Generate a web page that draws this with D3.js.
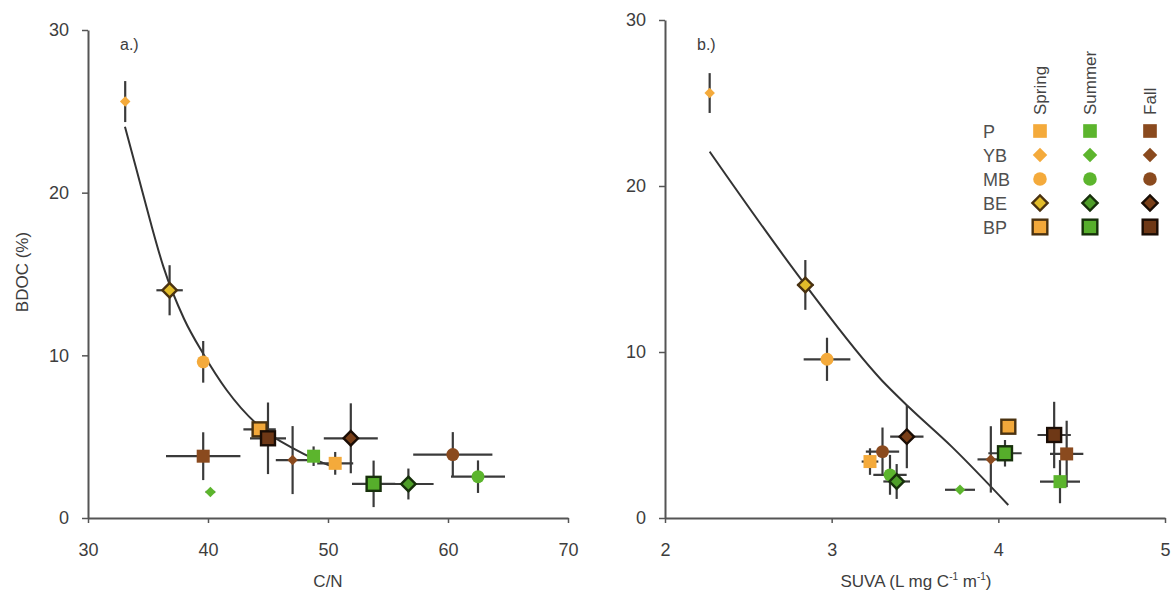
<!DOCTYPE html>
<html>
<head>
<meta charset="utf-8">
<script src="https://cdn.jsdelivr.net/npm/d3@7"></script>
<style>
  html, body { margin: 0; padding: 0; background: #fff; }
  svg { display: block; font-family: "Liberation Sans", Arial, Helvetica, sans-serif; }
</style>
</head>
<body>
<svg id="chart" width="1174" height="607"></svg>
<script>
// ---- data ----
const sites = ["P", "YB", "MB", "BE", "BP"];
const seasons = ["Spring", "Summer", "Fall"];
const bdocTicks = [0, 10, 20, 30];
const cnTicks = [30, 40, 50, 60, 70];
const suvaTicks = [2, 3, 4, 5];

// panel a: BDOC vs C/N (order: Spring P..BP, Summer P..BP, Fall P..BP)
const cnSite   = ["P","YB","MB","BE","BP", "P","YB","MB","BE","BP", "P","YB","MB","BE","BP"];
const cnSeason = ["Spring","Spring","Spring","Spring","Spring","Summer","Summer","Summer","Summer","Summer","Fall","Fall","Fall","Fall","Fall"];
const cnValue  = [50.6, 33.1, 39.6, 36.8, 44.3,  48.8, 40.2, 62.5, 56.7, 53.8,  39.6, 47.05, 60.4, 51.9, 45.0];
const cnErr    = [1.5, 0.1, 0.3, 1.1, 1.35,  0.3, 0.4, 2.25, 2.1, 1.8,  3.1, 1.4, 3.3, 2.25, 1.5];
const cnBdoc   = [3.36, 25.6, 9.6, 14.0, 5.45,  3.8, 1.6, 2.54, 2.09, 2.1,  3.8, 3.56, 3.9, 4.9, 4.9];
const cnBdocErr= [0.7, 1.26, 1.28, 1.54, 0.4,  0.6, 0.1, 1.0, 0.95, 1.43,  1.47, 2.09, 1.38, 2.15, 2.2];

// panel b: BDOC vs SUVA
const suvaSite   = cnSite;
const suvaSeason = cnSeason;
const suvaValue  = [3.23, 2.268, 2.972, 2.842, 4.06,  4.37, 3.77, 3.35, 3.39, 4.04,  4.41, 3.955, 3.305, 3.451, 4.335];
const suvaErr    = [0.05, 0.02, 0.14, 0.05, 0,  0.12, 0.09, 0.1, 0.08, 0.1,  0.1, 0.08, 0.1, 0.1, 0.1];
const suvaBdoc   = [3.4, 25.6, 9.56, 14.04, 5.5,  2.19, 1.7, 2.6, 2.2, 3.9,  3.86, 3.53, 4.0, 4.9, 5.0];
const suvaBdocErr= [0.8, 1.2, 1.3, 1.5, 0,  1.3, 0.1, 1.2, 1.05, 0.8,  2.0, 2.0, 1.45, 1.9, 2.0];

// fitted trend lines
const cnFitX = [33.08, 34.05, 35.17, 36.28, 38.0, 39.6, 41.55, 44.33, 47.1, 49.05, 50.2];
const cnFitY = [24.05, 21.4, 18.3, 15.45, 12.25, 10.1, 7.87, 5.6, 4.28, 3.56, 3.2];
const suvaFitX = [2.268, 2.842, 3.30, 3.461, 3.72, 4.06];
const suvaFitY = [22.07, 14.04, 8.3, 6.7, 4.3, 0.78];

// ---- styles ----
const seasonFill = { Spring: "#F4AA3B", Summer: "#5CB52D", Fall: "#8A4A1E" };
const beFill     = { Spring: "#E2BC2A", Summer: "#4E9E28", Fall: "#7A3F18" };
const bpFill     = { Spring: "#F2A83A", Summer: "#56AE2B", Fall: "#6E3816" };
const edgeColor  = { Spring: "#4A3210", Summer: "#17300B", Fall: "#1A0D05" };
const ink = "#3a3a3a";
const textColor = "#3d3d3d";

const svg = d3.select("#chart");

// k scales the symbol; ybArea sets the YB diamond size
function drawMarker(g, site, season, x, y, ybArea, k = 1) {
  const fill = seasonFill[season];
  if (site === "P") {
    const s = 13 * k;
    g.append("rect").attr("x", x - s / 2).attr("y", y - s / 2).attr("width", s).attr("height", s)
      .attr("fill", fill);
  } else if (site === "YB") {
    g.append("path").attr("d", d3.symbol(d3.symbolSquare, ybArea || 55)())
      .attr("transform", `translate(${x},${y}) rotate(45)`).attr("fill", fill);
  } else if (site === "MB") {
    g.append("circle").attr("cx", x).attr("cy", y).attr("r", 6.8 * k * 0.95).attr("fill", fill);
  } else if (site === "BE") {
    g.append("path").attr("d", d3.symbol(d3.symbolSquare, 105 * k * k)())
      .attr("transform", `translate(${x},${y}) rotate(45)`)
      .attr("fill", beFill[season]).attr("stroke", edgeColor[season]).attr("stroke-width", 2.4);
  } else if (site === "BP") {
    const s = 15 * k * 0.93;
    g.append("rect").attr("x", x - s / 2).attr("y", y - s / 2).attr("width", s).attr("height", s)
      .attr("fill", bpFill[season]).attr("stroke", edgeColor[season]).attr("stroke-width", 2.4);
  }
}

function panel(opt) {
  const x = d3.scaleLinear().domain(opt.xDomain).range([opt.left, opt.right]);
  const y = d3.scaleLinear().domain([0, 30]).range([opt.bottom, opt.top]);
  const g = svg.append("g");

  // axes
  const ax = g.append("g").attr("transform", `translate(0,${opt.bottom})`)
    .call(d3.axisBottom(x).tickValues(opt.xTicks).tickFormat(d3.format("d"))
      .tickSize(5).tickPadding(20).tickSizeOuter(0));
  const ay = g.append("g").attr("transform", `translate(${opt.left},0)`)
    .call(d3.axisLeft(y).tickValues(bdocTicks).tickSize(6).tickPadding(13).tickSizeOuter(0));
  [ax, ay].forEach(a => {
    a.select(".domain").attr("stroke", "#555").attr("stroke-width", 2);
    a.selectAll(".tick line").attr("stroke", "#555").attr("stroke-width", 1.5);
    a.selectAll(".tick text").attr("fill", textColor).attr("font-size", 18)
      .attr("font-family", "Liberation Sans, Arial, sans-serif");
  });

  // fit line
  const line = d3.line().x(d => x(d[0])).y(d => y(d[1])).curve(d3.curveMonotoneX);
  g.append("path").datum(opt.fitX.map((v, i) => [v, opt.fitY[i]]))
    .attr("d", line).attr("fill", "none").attr("stroke", "#333").attr("stroke-width", 2);

  // error bars
  const eb = g.append("g").attr("stroke", ink).attr("stroke-width", 2.2);
  opt.xv.forEach((xv, i) => {
    const yv = opt.yv[i];
    if (opt.xe[i] > 0) eb.append("line").attr("x1", x(xv - opt.xe[i])).attr("x2", x(xv + opt.xe[i]))
      .attr("y1", y(yv)).attr("y2", y(yv));
    if (opt.ye[i] > 0) eb.append("line").attr("x1", x(xv)).attr("x2", x(xv))
      .attr("y1", y(yv - opt.ye[i])).attr("y2", y(yv + opt.ye[i]));
  });

  // markers
  const mk = g.append("g");
  opt.xv.forEach((xv, i) => drawMarker(mk, opt.site[i], opt.season[i], x(xv), y(opt.yv[i])));

  // panel tag
  g.append("text").attr("x", opt.left + 32).attr("y", 50).text(opt.tag)
    .attr("font-size", 16).attr("fill", textColor);
  return { x, y, g };
}

panel({
  left: 88, right: 568, top: 30, bottom: 518, xDomain: [30, 70], xTicks: cnTicks,
  xv: cnValue, xe: cnErr, yv: cnBdoc, ye: cnBdocErr, site: cnSite, season: cnSeason,
  fitX: cnFitX, fitY: cnFitY, tag: "a.)"
});
panel({
  left: 665, right: 1165, top: 20, bottom: 518, xDomain: [2, 5], xTicks: suvaTicks,
  xv: suvaValue, xe: suvaErr, yv: suvaBdoc, ye: suvaBdocErr, site: suvaSite, season: suvaSeason,
  fitX: suvaFitX, fitY: suvaFitY, tag: "b.)"
});

// axis titles
svg.append("text").attr("transform", "translate(28,272) rotate(-90)").attr("text-anchor", "middle")
  .attr("font-size", 17).attr("fill", textColor).text("BDOC (%)");
svg.append("text").attr("x", 328).attr("y", 587).attr("text-anchor", "middle")
  .attr("font-size", 17).attr("fill", textColor).text("C/N");
const st = svg.append("text").attr("x", 916).attr("y", 587).attr("text-anchor", "middle")
  .attr("font-size", 17).attr("fill", textColor);
st.append("tspan").text("SUVA (L mg C");
st.append("tspan").attr("dy", -7).attr("font-size", 10).text("-1");
st.append("tspan").attr("dy", 7).text(" m");
st.append("tspan").attr("dy", -7).attr("font-size", 10).text("-1");
st.append("tspan").attr("dy", 7).text(")");

// legend
const legend = svg.append("g");
const colX = { Spring: 1040, Summer: 1090, Fall: 1150 };
const rowY0 = 131, rowStep = 24;
sites.forEach((s, r) => {
  legend.append("text").attr("x", 983).attr("y", rowY0 + r * rowStep + 6.5)
    .attr("font-size", 18).attr("fill", "#505050").text(s);
  seasons.forEach(se => drawMarker(legend, s, se, colX[se], rowY0 + r * rowStep, 105, 1.05));
});
seasons.forEach(se => {
  legend.append("text").attr("transform", `translate(${colX[se] + 6},115) rotate(-90)`)
    .attr("font-size", 17).attr("fill", "#444").text(se);
});
</script>
</body>
</html>
